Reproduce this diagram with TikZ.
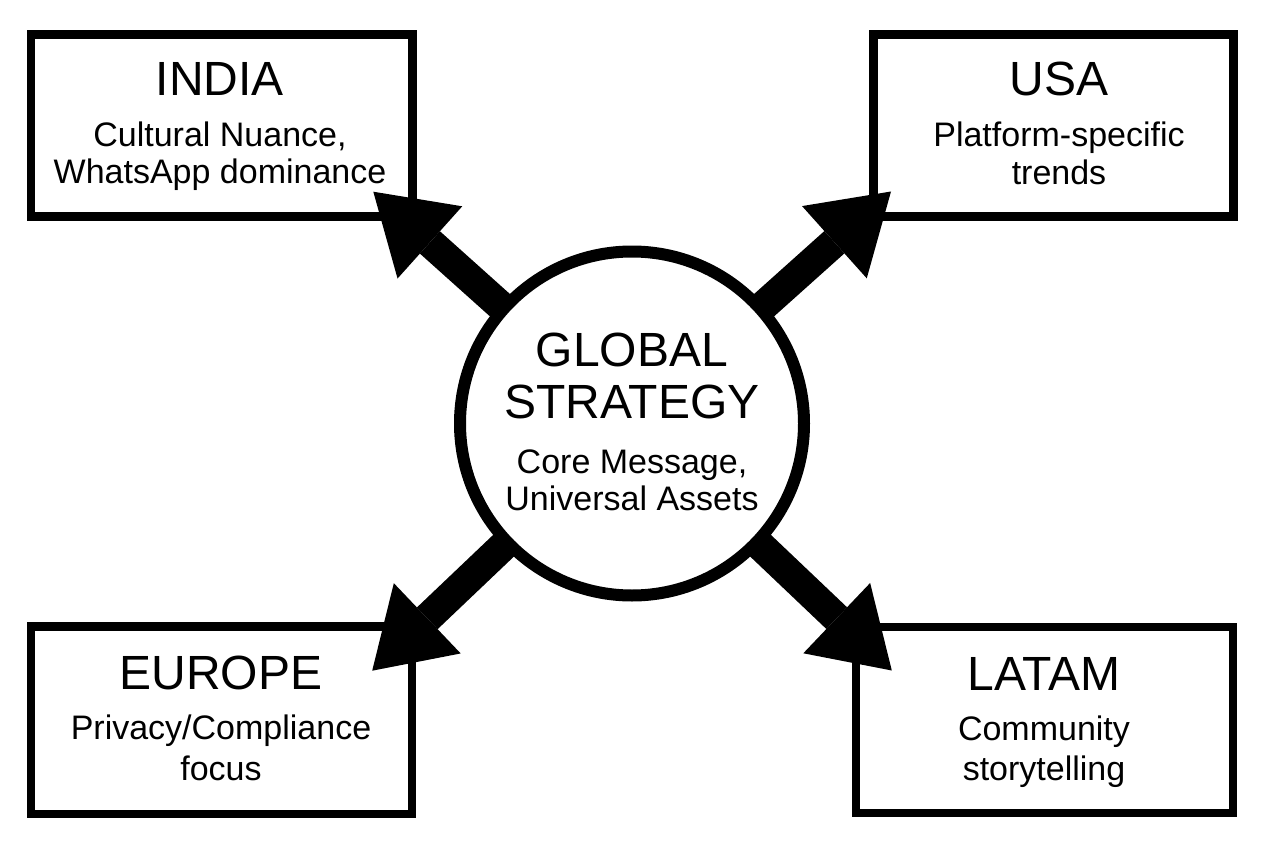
\documentclass[tikz,border=0pt]{standalone}
\usepackage{fontspec}
\setmainfont{Liberation Sans}
\usetikzlibrary{arrows.meta,backgrounds}
\tikzset{
  region/.style={draw=black, line width=8.5pt, rectangle, inner sep=0pt, fill=white},
  hub/.style={draw=black, line width=12pt, circle, inner sep=0pt, fill=white, minimum size=344pt},
  ttl/.style={anchor=base, inner sep=0pt, font=\fontsize{48pt}{58pt}\selectfont},
  sub/.style={anchor=base, inner sep=0pt, font=\fontsize{34pt}{41pt}\selectfont},
  bigarrow/.style={draw=black, line width=30pt, line cap=butt,
    -{Triangle[length=76pt,width=97pt,line width=0pt]}}
}
\begin{document}
\begin{tikzpicture}[x=1pt,y=-1pt]
\useasboundingbox (0,0) rectangle (1264,848);
% central hub
\node[hub] (g) at (632,423.5) {};
\node[ttl] (g1) at (632,366.7) {GLOBAL};
\node[ttl] (g2) at (632,418.3) {STRATEGY};
\node[sub] (g3) at (632,473.3) {Core Message,};
\node[sub] (g4) at (632,510.7) {Universal Assets};
% texts of regions
\node[ttl] (i1) at (220,96) {INDIA};
\node[sub] (i2) at (220,147) {Cultural Nuance,};
\node[sub] (i3) at (220,183.3) {WhatsApp dominance};
\node[ttl] (u1) at (1059,96) {USA};
\node[sub] (u2) at (1059,146.7) {Platform-specific};
\node[sub] (u3) at (1059,184) {trends};
\node[ttl] (e1) at (221,689) {EUROPE};
\node[sub] (e2) at (221,739) {Privacy/Compliance};
\node[sub] (e3) at (221,780) {focus};
\node[ttl] (l1) at (1044,690) {LATAM};
\node[sub] (l2) at (1044,740) {Community};
\node[sub] (l3) at (1044,780.5) {storytelling};
\begin{scope}[on background layer]
\fill[white] (0,0) rectangle (1264,848);
\node[region, minimum width=381.4pt, minimum height=182.1pt] (india) at (221.7,125.4) {};
\node[region, minimum width=359.9pt, minimum height=182.1pt] (usa) at (1053.5,125.4) {};
\node[region, minimum width=381pt, minimum height=187.2pt] (europe) at (221.3,720.2) {};
\node[region, minimum width=377pt, minimum height=186pt] (latam) at (1044.5,720) {};
\coordinate (tI) at (373.3,191.7);
\coordinate (tU) at (891,191.5);
\coordinate (tE) at (372.2,670.7);
\coordinate (tL) at (891.8,670.5);
\draw[bigarrow] (g.center) -- (tI);
\draw[bigarrow] (g.center) -- (tU);
\draw[bigarrow] (g.center) -- (tE);
\draw[bigarrow] (g.center) -- (tL);
\end{scope}
\end{tikzpicture}
\end{document}
